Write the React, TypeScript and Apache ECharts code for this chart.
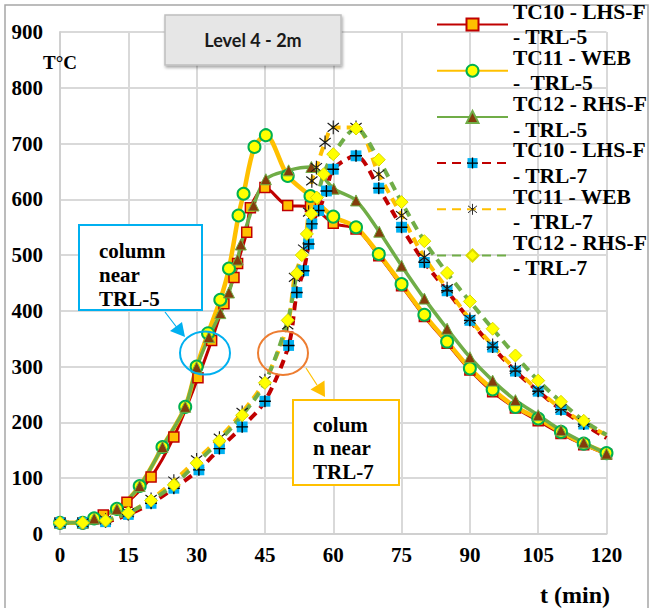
import React, { useEffect, useRef } from "react";
import * as echarts from "echarts";

// ---- axes ----
const X_MIN = 0;
const X_MAX = 120;
const X_STEP = 15;
const Y_MIN = 0;
const Y_MAX = 900;
const Y_STEP = 100;

// ---- series names (legend) ----
const NAMES = [
  "TC10 - LHS-F\n- TRL-5",
  "TC11 - WEB\n-  TRL-5",
  "TC12 - RHS-F\n- TRL-5",
  "TC10 - LHS-F\n- TRL-7",
  "TC11 - WEB\n-  TRL-7",
  "TC12 - RHS-F\n- TRL-7",
];

// ---- TRL-5 ----
const tTC10_5 = [0, 5, 9.5, 14.7, 20, 25, 30.3, 33.3, 36, 38.2, 39, 41, 41.8, 45, 50, 55, 60, 65, 70, 75, 80, 85, 90, 95, 100, 105, 110, 115, 120];
const vTC10_5 = [20, 20, 34, 57, 102, 174, 280, 347, 413, 460, 485, 541, 585, 621, 589, 587, 557, 547, 499, 445, 390, 342, 294, 255, 226, 203, 180, 160, 143];

const tTC11_5 = [0, 5, 7.5, 12.5, 17.5, 22.5, 27.5, 30, 32.5, 35.2, 37.1, 39.2, 40.3, 42.7, 45.2, 50, 55, 60, 65, 70, 75, 80, 85, 90, 95, 100, 105, 110, 115, 120];
const vTC11_5 = [20, 20, 28, 45, 86, 156, 228, 300, 360, 420, 476, 571, 610, 694, 715, 642, 606, 569, 550, 502, 448, 393, 345, 297, 259, 228, 207, 183, 162, 145];

const tTC12_5 = [0, 5, 7.5, 12.5, 17.5, 22.5, 27.5, 30, 32.7, 35.2, 37.1, 39, 39.7, 42.5, 45.2, 50.2, 55.2, 60.1, 65, 70.1, 75, 80, 85, 90, 95, 100, 105, 110, 115, 120];
const vTC12_5 = [20, 20, 28, 45, 86, 156, 228, 299, 353, 396, 433, 492, 519, 589, 636, 652, 658, 619, 598, 542, 481, 422, 368, 317, 275, 240, 213, 186, 164, 144];

// ---- TRL-7 ----
const tTC10_7 = [0, 5, 10, 15, 20, 25, 30.5, 35, 40, 45, 50.2, 52, 53.5, 54.6, 55.3, 56.8, 58.5, 60, 65, 70, 75, 80, 85, 90, 95, 100, 105, 110, 115, 120];
const vTC10_7 = [20, 20, 22, 35, 55, 82, 115, 153, 192, 238, 338, 433, 472, 520, 556, 580, 615, 654, 678, 620, 550, 487, 436, 383, 335, 292, 256, 223, 197, 172];

const tTC11_7 = [0, 5, 10, 15, 20, 25, 30, 35, 40, 45, 50, 51.5, 53.5, 54.6, 55.3, 56.3, 58.2, 60, 65, 70, 75, 80, 85, 90, 95, 100, 105, 110, 115, 120];
const vTC11_7 = [20, 20, 25, 38, 62, 95, 133, 172, 218, 275, 375, 460, 511, 577, 633, 657, 702, 729, 729, 645, 571, 496, 440, 385, 338, 295, 258, 225, 200, 177];

const tTC12_7 = [0, 5, 10, 15, 20, 25, 30, 35, 40, 45, 50, 52, 53.1, 54.2, 55.2, 56.4, 57.9, 60, 65, 70, 75, 80, 85, 90, 95, 100, 105, 110, 115, 120];
const vTC12_7 = [20, 20, 24, 38, 60, 88, 127, 167, 213, 271, 383, 467, 500, 538, 574, 603, 645, 681, 727, 671, 595, 525, 468, 417, 368, 320, 275, 237, 203, 178];

const svgUri = (s: string) => "image://data:image/svg+xml;charset=utf-8," + encodeURIComponent(s);
const SQ_PLUS = svgUri(
  "<svg xmlns='http://www.w3.org/2000/svg' width='24' height='24' viewBox='0 0 24 24'><rect x='2' y='2' width='20' height='20' fill='#00b0f0'/><path d='M12 1V23M1 12H23' stroke='#000' stroke-width='2.6'/></svg>"
);
const ASTER = svgUri(
  "<svg xmlns='http://www.w3.org/2000/svg' width='24' height='24' viewBox='0 0 24 24'><path d='M12 1V23M3 5L21 19M3 19L21 5' stroke='#1a1a1a' stroke-width='1.8' fill='none'/></svg>"
);

const pairs = (ts: number[], vs: number[], lastNoMarker = false) =>
  ts.map((t, i) =>
    lastNoMarker && i === ts.length - 1 ? { value: [t, vs[i]], symbol: "none" } : [t, vs[i]]
  );

const SERIF = '"Liberation Serif", "Times New Roman", serif';

export default function App() {
  const ref = useRef<HTMLDivElement>(null);
  useEffect(() => {
    if (!ref.current) return;
    const chart = echarts.init(ref.current, undefined, { renderer: "svg" });
    const smooth = 0.3;
    const option: any = {
      animation: false,
      backgroundColor: "#ffffff",
      grid: { left: 60, right: 46.5, top: 32, bottom: 74 },
      xAxis: {
        type: "value",
        min: X_MIN,
        max: X_MAX,
        interval: X_STEP,
        axisLine: { show: true, lineStyle: { color: "#d0d0d0", width: 2 } },
        axisTick: { show: false },
        splitLine: { show: true, lineStyle: { color: "#d9d9d9", width: 2 } },
        axisLabel: { color: "#000", fontFamily: SERIF, fontWeight: "bold", fontSize: 21, margin: 10 },
      },
      yAxis: {
        type: "value",
        min: Y_MIN,
        max: Y_MAX,
        interval: Y_STEP,
        axisLine: { show: true, lineStyle: { color: "#d0d0d0", width: 2 } },
        axisTick: { show: false },
        splitLine: { show: true, lineStyle: { color: "#d9d9d9", width: 2 } },
        axisLabel: { color: "#000", fontFamily: SERIF, fontWeight: "bold", fontSize: 21, margin: 17 },
      },
      legend: {
        orient: "vertical",
        left: 436,
        top: -13.75,
        padding: 0,
        itemWidth: 71,
        itemHeight: 15,
        itemGap: -30.3,
        selectedMode: false,
        data: NAMES,
        textStyle: {
          fontFamily: SERIF,
          fontWeight: "bold",
          fontSize: 21.5,
          lineHeight: 25.5,
          color: "#000",
          padding: [25.5, 0, 0, 0],
        },
      },
      series: [
        {
          name: NAMES[0],
          type: "line",
          smooth,
          data: pairs(tTC10_5, vTC10_5),
          symbol: "rect",
          symbolSize: 10,
          lineStyle: { color: "#c00000", width: 3 },
          itemStyle: { color: "#ffc000", borderColor: "#c00000", borderWidth: 1.5 },
        },
        {
          name: NAMES[1],
          type: "line",
          smooth,
          data: pairs(tTC11_5, vTC11_5),
          symbol: "circle",
          symbolSize: 12,
          lineStyle: { color: "#ffc000", width: 4.5 },
          itemStyle: { color: "#ffff00", borderColor: "#00b050", borderWidth: 2 },
        },
        {
          name: NAMES[2],
          type: "line",
          smooth,
          data: pairs(tTC12_5, vTC12_5),
          symbol: "triangle",
          symbolSize: 11,
          lineStyle: { color: "#70ad47", width: 3.5 },
          itemStyle: { color: "#843c0c", borderColor: "#70ad47", borderWidth: 1 },
        },
        {
          name: NAMES[3],
          type: "line",
          smooth,
          data: pairs(tTC10_7, vTC10_7, true),
          symbol: SQ_PLUS,
          symbolSize: 13,
          lineStyle: { color: "#c00000", width: 4, type: [9, 6] },
          itemStyle: { color: "#00b0f0" },
        },
        {
          name: NAMES[4],
          type: "line",
          smooth,
          data: pairs(tTC11_7, vTC11_7, true),
          symbol: ASTER,
          symbolSize: 15,
          lineStyle: { color: "#ffc000", width: 4, type: [9, 6] },
          itemStyle: { color: "#ffc000" },
        },
        {
          name: NAMES[5],
          type: "line",
          smooth,
          data: pairs(tTC12_7, vTC12_7, true),
          symbol: "diamond",
          symbolSize: 13,
          lineStyle: { color: "#70ad47", width: 4, type: [9, 6] },
          itemStyle: { color: "#ffff00", borderColor: "#d9d900", borderWidth: 1 },
        },
      ],
      graphic: [
        {
          type: "rect",
          silent: true,
          z: 0,
          shape: { x: 5, y: 5, width: 643, height: 620 },
          style: { fill: "none", stroke: "#a6a6a6", lineWidth: 1.5 },
        },
        {
          type: "rect",
          z: 20,
          shape: { x: 165, y: 15, width: 176, height: 50 },
          style: {
            fill: "#e6e6e6",
            stroke: "#bfbfbf",
            lineWidth: 1.5,
            shadowBlur: 3,
            shadowOffsetX: 1,
            shadowOffsetY: 2,
            shadowColor: "rgba(0,0,0,0.35)",
          },
        },
        {
          type: "text",
          z: 21,
          x: 253,
          y: 40,
          style: {
            text: "Level 4 - 2m",
            font: 'bold 18px Lato, "Open Sans", sans-serif',
            fill: "#1a1a1a",
            textAlign: "center",
            textVerticalAlign: "middle",
          },
        },
        {
          type: "text",
          z: 21,
          x: 43,
          y: 62,
          style: {
            text: "T°C",
            font: "bold 19px " + SERIF,
            fill: "#000",
            textAlign: "left",
            textVerticalAlign: "middle",
          },
        },
        {
          type: "text",
          z: 21,
          x: 610,
          y: 595,
          style: {
            text: "t (min)",
            font: "bold 24px " + SERIF,
            fill: "#000",
            textAlign: "right",
            textVerticalAlign: "middle",
          },
        },
        // blue annotation
        {
          type: "rect",
          z: 20,
          shape: { x: 79, y: 225, width: 123, height: 85 },
          style: { fill: "#ffffff", stroke: "#00b0f0", lineWidth: 2 },
        },
        {
          type: "text",
          z: 21,
          x: 99,
          y: 239,
          style: {
            text: "column\nnear\nTRL-5",
            font: "bold 21px " + SERIF,
            lineHeight: 24,
            fill: "#000",
            textAlign: "left",
            textVerticalAlign: "top",
          },
        },
        {
          type: "line",
          z: 20,
          shape: { x1: 165, y1: 312, x2: 178, y2: 329 },
          style: { stroke: "#00b0f0", lineWidth: 1.2 },
        },
        {
          type: "polygon",
          z: 20,
          shape: { points: [[185, 337], [170, 331], [182, 322]] },
          style: { fill: "#00b0f0" },
        },
        {
          type: "ellipse",
          z: 20,
          shape: { cx: 205, cy: 353, rx: 25, ry: 21.5 },
          style: { fill: "none", stroke: "#00b0f0", lineWidth: 2 },
        },
        // orange / gold annotation
        {
          type: "ellipse",
          z: 20,
          shape: { cx: 283, cy: 353, rx: 25, ry: 22 },
          style: { fill: "none", stroke: "#ed7d31", lineWidth: 2 },
        },
        {
          type: "line",
          z: 20,
          shape: { x1: 306, y1: 368, x2: 317, y2: 385 },
          style: { stroke: "#ffc000", lineWidth: 1.2 },
        },
        {
          type: "polygon",
          z: 20,
          shape: { points: [[325, 397], [310.5, 389.5], [324.5, 380.5]] },
          style: { fill: "#ffc000" },
        },
        {
          type: "rect",
          z: 20,
          shape: { x: 293, y: 400, width: 106, height: 85 },
          style: { fill: "#ffffff", stroke: "#ffc000", lineWidth: 2 },
        },
        {
          type: "text",
          z: 21,
          x: 313,
          y: 413,
          style: {
            text: "colum\nn near\nTRL-7",
            font: "bold 21px " + SERIF,
            lineHeight: 23.5,
            fill: "#000",
            textAlign: "left",
            textVerticalAlign: "top",
          },
        },
      ],
    };
    chart.setOption(option);
    return () => chart.dispose();
  }, []);
  return (
    <div
      ref={ref}
      style={{ position: "fixed", left: 0, top: 0, width: 653, height: 608, background: "#fff" }}
    />
  );
}
